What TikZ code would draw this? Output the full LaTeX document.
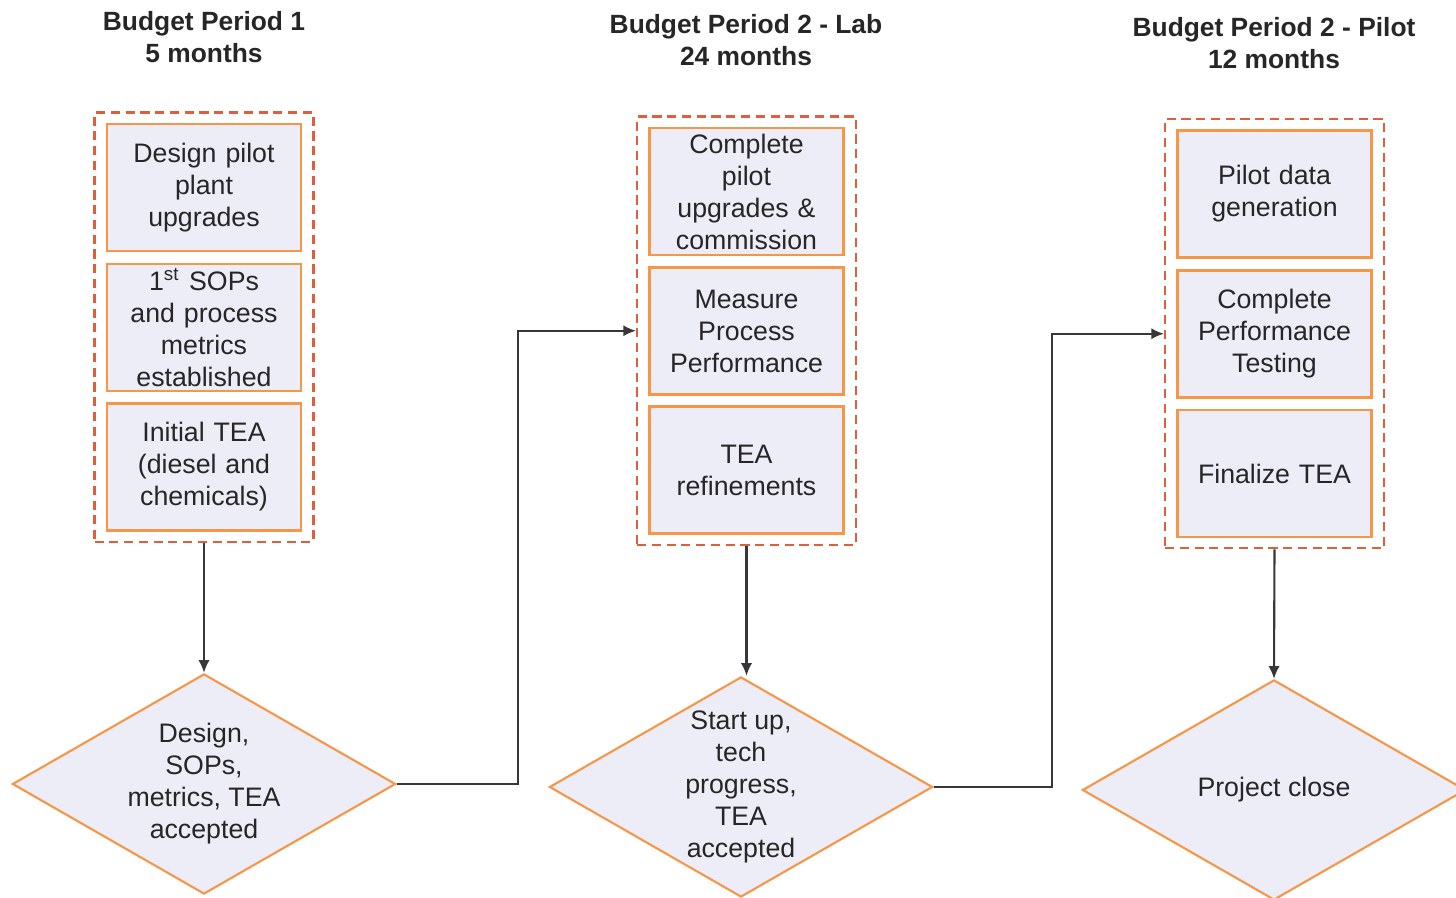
\documentclass[tikz,border=0pt]{standalone}
\usepackage{fontspec}
\setmainfont{Liberation Sans}
\usetikzlibrary{arrows.meta}
\usetikzlibrary{fit}
\usetikzlibrary{shapes.geometric}
\definecolor{tangerine}{RGB}{247, 150, 70}
\definecolor{rust}{RGB}{222, 95, 60}
\definecolor{lavender}{RGB}{236, 237, 246}
\definecolor{graphite}{RGB}{55, 55, 58}

\tikzset{
  task/.style={draw=tangerine, fill=lavender, line width=0.8pt, minimum width=1.92cm, minimum height=1.27cm,
               inner xsep=2pt, inner ysep=0pt, text width=1.8cm, align=center, text=black!85,
               font=\fontsize{7.6}{9.1}\selectfont},
  phase/.style={draw=rust, dash pattern=on 2.6pt off 1.6pt, line width=0.6pt, inner xsep=0.11cm, inner ysep=0.1cm},
  gate/.style={diamond, draw=tangerine, fill=lavender, line width=0.6pt, minimum width=3.83cm, minimum height=2.2cm,
               aspect=1.74, inner sep=0pt, align=center, text=black!85, font=\fontsize{7.6}{9.1}\selectfont},
  heading/.style={align=center, text=black!85, font=\bfseries\fontsize{7.5}{9.1}\selectfont},
  flow/.style={draw=graphite, line width=0.6pt, -{Latex[length=3.6pt,width=3.2pt]}}
}

\begin{document}
\begin{tikzpicture}[x=0.01cm, y=-0.01cm]
  \useasboundingbox[fill=white] (0,0) rectangle (1456,898);

  % headings
  \node[heading] (h1) at (204,37)  {Budget Period 1\\5 months};
  \node[heading] (h2) at (746,40)  {Budget Period 2 - Lab\\24 months};
  \node[heading] (h3) at (1274,43) {Budget Period 2 - Pilot\\12 months};

  % period 1
  \node[task] (t11) at (204,187.5) {Design pilot\\plant\\upgrades};
  \node[task] (t12) at (204,327.5) {1\textsuperscript{st} SOPs\\and process\\metrics\\established};
  \node[task] (t13) at (204,467)   {Initial TEA\\(diesel and\\chemicals)};
  \node[phase, fit=(t11)(t13)] (g1) {};
  \node[gate] (d1) at (204,784) {Design,\\SOPs,\\metrics, TEA\\accepted};

  % period 2 - lab
  \node[task] (t21) at (746.5,191.5) {Complete\\pilot\\upgrades \&\\commission};
  \node[task] (t22) at (746.5,331)   {Measure\\Process\\Performance};
  \node[task] (t23) at (746.5,470)   {TEA\\refinements};
  \node[phase, fit=(t21)(t23)] (g2) {};
  \node[gate] (d2) at (741,787) {Start up,\\tech\\progress,\\TEA\\accepted};

  % period 2 - pilot
  \node[task] (t31) at (1274.5,194)   {Pilot data\\generation};
  \node[task] (t32) at (1274.5,334)   {Complete\\Performance\\Testing};
  \node[task] (t33) at (1274.5,473.5) {Finalize TEA};
  \node[phase, fit=(t31)(t33)] (g3) {};
  \node[gate] (d3) at (1274,790) {Project close};

  % connectors
  \draw[flow] (g1.south) -- (d1.north);
  \draw[flow] (g2.south) -- (g2.south |- d2.north);
  \draw[flow] (g3.south) -- (d3.north);
  \draw[flow] (d1.east) -- ++(121,0) |- (g2.west);
  \draw[flow] (d2.east) -- ++(118,0) |- (g3.west);
\end{tikzpicture}
\end{document}
